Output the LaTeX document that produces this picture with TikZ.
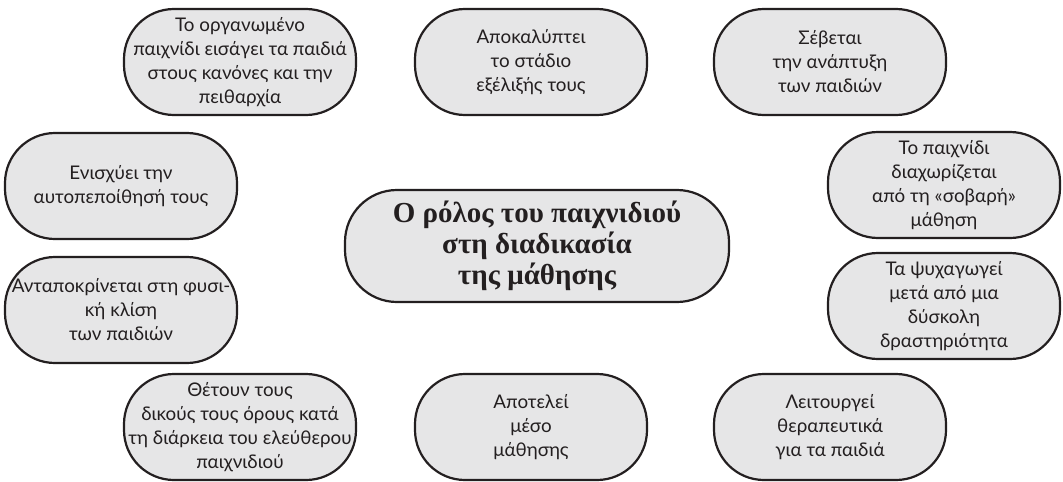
\documentclass[tikz,border=0pt]{standalone}
\usepackage{fontspec}
\setmainfont{Lato}
\newfontfamily\titrefont{Liberation Serif}
\definecolor{fond}{HTML}{E6E6E7}
\definecolor{trait}{HTML}{231F20}
\begin{document}
\begin{tikzpicture}[x=0.5pt,y=-0.5pt]
            \tikzset{bulle/.style = {draw=trait,fill=fond,line width=1.1pt,rounded corners=25pt,
                minimum width=116pt,minimum height=53pt,align=center,inner sep=2pt,
                font=\fontsize{9.4}{12}\selectfont,text=trait}}
            \tikzset{centre/.style = {bulle,minimum width=192pt,minimum height=56pt,rounded corners=26pt,
                font=\titrefont\bfseries\fontsize{14.5}{15.5}\selectfont}}
            \useasboundingbox (0,0) rectangle (1063,481);
            \node[bulle] (organise) at (240,62) {Το οργανωμένο\\παιχνίδι εισάγει τα παιδιά\\στους κανόνες και την\\πειθαρχία};
            \node[bulle] (stade) at (531,62) {Αποκαλύπτει\\το στάδιο\\εξέλιξής τους};
            \node[bulle] (respect) at (830,62) {Σέβεται\\την ανάπτυξη\\των παιδιών};
            \node[bulle] (confiance) at (121,186) {Ενισχύει την\\αυτοπεποίθησή τους};
            \node[bulle] (separe) at (944,185) {Το παιχνίδι\\διαχωρίζεται\\από τη «σοβαρή»\\μάθηση};
            \node[centre] (role) at (537,246) {Ο ρόλος του παιχνιδιού\\στη διαδικασία\\της μάθησης};
            \node[bulle] (appel) at (121,310) {Ανταποκρίνεται στη φυσι-\\κή κλίση\\των παιδιών};
            \node[bulle] (detente) at (944,306) {Τα ψυχαγωγεί\\μετά από μια\\δύσκολη\\δραστηριότητα};
            \node[bulle] (regles) at (240,427) {Θέτουν τους\\δικούς τους όρους κατά\\τη διάρκεια του ελεύθερου\\παιχνιδιού};
            \node[bulle] (moyen) at (531,427) {Αποτελεί\\μέσο\\μάθησης};
            \node[bulle] (therapie) at (830,427) {Λειτουργεί\\θεραπευτικά\\για τα παιδιά};
        \end{tikzpicture}
\end{document}
